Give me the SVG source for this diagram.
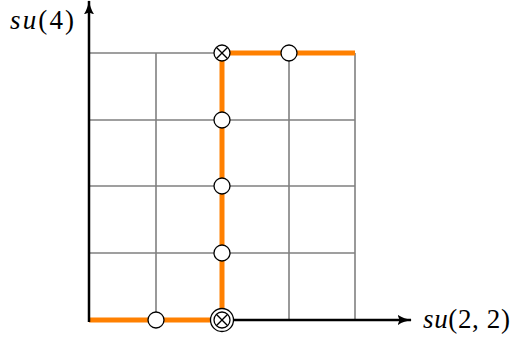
<svg xmlns="http://www.w3.org/2000/svg" width="514" height="338" viewBox="0 0 514 338">
<style>
.grid{stroke:#808080;stroke-width:1.6;fill:none}
.path{stroke:#ff8000;stroke-width:5;fill:none}
.axis{stroke:#000;stroke-width:2.5;fill:none}
.node circle{fill:#fff;stroke:#000;stroke-width:1.3}
.node line{stroke:#000;stroke-width:1.3}
.lbl{font-family:"Liberation Serif",serif;font-size:27px;fill:#000}
</style>
<defs>
<marker id="arr" viewBox="0 0 14 10" refX="13" refY="5" markerWidth="5.8" markerHeight="4.2" orient="auto" markerUnits="strokeWidth">
<path d="M0,0 Q6,4 14,5 Q6,6 0,10 L2,5 Z" fill="#000"/>
</marker>
</defs>
<g id="grid">
<path class="grid" d="M89,53H355M89,120H355M89,186H355M89,253H355M156,53V320M222,53V320M289,53V320M355,53V320"/>
</g>
<g id="connectors">
<path class="path" d="M89,320H222V53H355"/>
<line class="axis" x1="222" y1="320" x2="411" y2="320" marker-end="url(#arr)"/>
<line class="axis" x1="89" y1="322" x2="89" y2="1" marker-end="url(#arr)"/>
</g>
<g id="n1" class="node"><circle cx="156" cy="320" r="8"/></g>
<g id="n2" class="node"><circle cx="222" cy="320" r="11.5"/><circle cx="222" cy="320" r="8"/><line x1="216.3" y1="314.3" x2="227.7" y2="325.7"/><line x1="216.3" y1="325.7" x2="227.7" y2="314.3"/></g>
<g id="n3" class="node"><circle cx="222" cy="253" r="8"/></g>
<g id="n4" class="node"><circle cx="222" cy="186" r="8"/></g>
<g id="n5" class="node"><circle cx="222" cy="120" r="8"/></g>
<g id="n6" class="node"><circle cx="222" cy="53" r="8"/><line x1="216.3" y1="47.3" x2="227.7" y2="58.7"/><line x1="216.3" y1="58.7" x2="227.7" y2="47.3"/></g>
<g id="n7" class="node"><circle cx="289" cy="53" r="8"/></g>
<text class="lbl" x="10" y="29" textLength="64" lengthAdjust="spacing"><tspan font-style="italic">su</tspan>(4)</text>
<text class="lbl" x="423" y="328" textLength="87" lengthAdjust="spacing"><tspan font-style="italic">su</tspan>(2, 2)</text>
</svg>
